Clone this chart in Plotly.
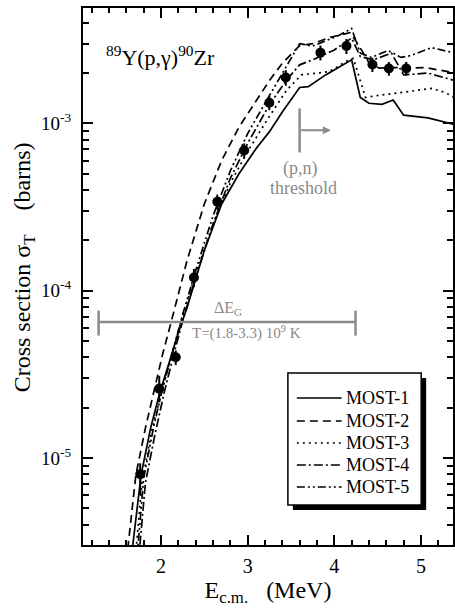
import plotly.graph_objects as go
import math

# ---------------- data ----------------
E_exp = [1.76, 1.98, 2.17, 2.38, 2.65, 2.96, 3.25, 3.44, 3.84, 4.14, 4.44, 4.63, 4.83]
sig_exp = [8.0e-6, 2.6e-5, 4.0e-5, 1.2e-4, 3.4e-4, 6.9e-4, 1.33e-3, 1.88e-3, 2.65e-3,
           2.9e-3, 2.25e-3, 2.13e-3, 2.13e-3]
err_plus = [1.3e-6, 0.5e-5, 0.4e-5, 0.15e-4, 0.35e-4, 0.7e-4, 0.13e-3, 0.2e-3, 0.27e-3,
            0.3e-3, 0.22e-3, 0.2e-3, 0.2e-3]
err_minus = [2.0e-6, 0.45e-5, 0.4e-5, 0.15e-4, 0.35e-4, 0.7e-4, 0.13e-3, 0.2e-3, 0.27e-3,
             0.3e-3, 0.22e-3, 0.2e-3, 0.2e-3]

E_m1 = [1.66, 1.77, 1.88, 1.99, 2.10, 2.20, 2.30, 2.50, 2.70, 2.90, 3.10, 3.25, 3.40, 3.60,
        3.70, 3.90, 4.20, 4.30, 4.40, 4.55, 4.68, 4.80, 5.08, 5.40]
sig_m1 = [2.6e-6, 7.9e-6, 1.51e-5, 2.5e-5, 3.8e-5, 5.6e-5, 7.9e-5, 1.74e-4, 3.3e-4, 5.0e-4,
          7.1e-4, 8.9e-4, 1.17e-3, 1.64e-3, 1.66e-3, 1.95e-3, 2.4e-3, 1.43e-3, 1.32e-3,
          1.30e-3, 1.38e-3, 1.12e-3, 1.08e-3, 9.8e-4]

E_m2 = [1.60, 1.71, 1.82, 1.93, 2.02, 2.10, 2.30, 2.50, 2.70, 2.90, 3.10, 3.25, 3.40, 3.60,
        3.75, 3.95, 4.18, 4.27, 4.40, 4.52, 4.70, 4.85, 5.05, 5.40]
sig_m2 = [2.4e-6, 7.9e-6, 1.51e-5, 2.7e-5, 4.2e-5, 6.0e-5, 1.51e-4, 3.3e-4, 6.0e-4, 9.5e-4,
          1.38e-3, 1.80e-3, 2.29e-3, 2.92e-3, 3.0e-3, 3.27e-3, 3.49e-3, 3.0e-3, 2.31e-3,
          2.14e-3, 2.16e-3, 2.14e-3, 2.16e-3, 2.0e-3]

E_m3 = [1.70, 1.78, 1.90, 2.02, 2.13, 2.25, 2.40, 2.60, 2.80, 3.00, 3.25, 3.45, 3.62, 3.94,
        4.17, 4.22, 4.36, 4.51, 4.66, 4.77, 4.93, 5.12, 5.28, 5.40]
sig_m3 = [2.4e-6, 7.1e-6, 1.51e-5, 2.6e-5, 4.3e-5, 7.1e-5, 1.26e-4, 2.5e-4, 4.4e-4, 6.8e-4,
          1.10e-3, 1.58e-3, 1.95e-3, 2.04e-3, 2.4e-3, 2.45e-3, 1.43e-3, 1.47e-3, 1.51e-3,
          1.53e-3, 1.57e-3, 1.62e-3, 1.53e-3, 1.41e-3]

E_m4 = [1.74, 1.82, 1.93, 2.04, 2.15, 2.25, 2.40, 2.60, 2.80, 3.00, 3.25, 3.45, 3.60, 3.75,
        4.00, 4.20, 4.30, 4.45, 4.66, 4.80, 5.08, 5.40]
sig_m4 = [2.4e-6, 7.1e-6, 1.38e-5, 2.5e-5, 4.2e-5, 6.6e-5, 1.20e-4, 2.5e-4, 4.7e-4, 7.6e-4,
          1.29e-3, 1.82e-3, 2.24e-3, 2.4e-3, 2.75e-3, 3.24e-3, 2.51e-3, 2.4e-3, 2.63e-3,
          1.95e-3, 2.0e-3, 1.80e-3]

E_m5 = [1.72, 1.80, 1.92, 2.03, 2.14, 2.25, 2.40, 2.60, 2.80, 3.00, 3.20, 3.40, 3.60, 3.75,
        4.05, 4.20, 4.30, 4.43, 4.62, 4.77, 4.89, 5.12, 5.40]
sig_m5 = [2.4e-6, 7.6e-6, 1.58e-5, 2.75e-5, 4.4e-5, 7.2e-5, 1.32e-4, 2.8e-4, 5.2e-4, 8.7e-4,
          1.32e-3, 2.0e-3, 3.0e-3, 2.9e-3, 3.35e-3, 3.7e-3, 2.63e-3, 2.48e-3, 2.73e-3,
          2.48e-3, 2.55e-3, 2.84e-3, 2.63e-3]

model_names = ["MOST-1", "MOST-2", "MOST-3", "MOST-4", "MOST-5"]

# Gamow window and (p,n) threshold annotations
gamow_E = [1.28, 4.245]
gamow_sigma = 6.5e-5
pn_threshold_E = 3.60
pn_arrow_E = 3.96

x_ticks = [2, 3, 4, 5]
y_ticks = [1e-5, 1e-4, 1e-3]
y_tick_text = ["10<sup>-5</sup>", "10<sup>-4</sup>", "10<sup>-3</sup>"]

# ---------------- figure ----------------
FONT = "Liberation Serif, Times New Roman, serif"
GRAY = "#8a8a8a"

# plot-area geometry in pixels (for legend placement in paper coords)
L, R, T, B = 83, 455, 8, 545
def px(xp):
    return (xp - L) / (R - L)
def py(yp):
    return (B - yp) / (B - T)

fig = go.Figure()

styles = ["solid", "8px,5px", "2px,4px", "9px,3px,2px,3px", "8px,3px,2px,3px,2px,3px"]
curves = [(E_m1, sig_m1), (E_m2, sig_m2), (E_m3, sig_m3), (E_m4, sig_m4), (E_m5, sig_m5)]
for name, (ex, sy), dash in zip(model_names, curves, styles):
    fig.add_trace(go.Scatter(x=ex, y=sy, mode="lines", name=name, showlegend=False,
                             line=dict(color="black", width=1.7, dash=dash)))

fig.add_trace(go.Scatter(
    x=E_exp, y=sig_exp, mode="markers", showlegend=False,
    marker=dict(color="black", size=10),
    error_y=dict(type="data", array=err_plus, arrayminus=err_minus, width=0,
                 thickness=2, color="black")))

# Gamow window bar (gray)
fig.add_trace(go.Scatter(x=gamow_E, y=[gamow_sigma, gamow_sigma], mode="lines",
                         showlegend=False, line=dict(color=GRAY, width=2.5)))
for ge in gamow_E:
    fig.add_trace(go.Scatter(x=[ge, ge], y=[gamow_sigma * 0.83, gamow_sigma * 1.17],
                             mode="lines", showlegend=False,
                             line=dict(color=GRAY, width=2.5)))

# (p,n) threshold vertical marker + arrow
fig.add_trace(go.Scatter(x=[pn_threshold_E, pn_threshold_E], y=[6.7e-4, 1.23e-3],
                         mode="lines", showlegend=False,
                         line=dict(color=GRAY, width=2.5)))
fig.add_annotation(x=pn_arrow_E, y=math.log10(9.1e-4), xref="x", yref="y",
                   ax=pn_threshold_E, ay=math.log10(9.1e-4), axref="x", ayref="y",
                   showarrow=True, arrowhead=2, arrowsize=0.8, arrowwidth=2,
                   arrowcolor=GRAY, text="")
fig.add_annotation(x=3.615, y=-3.269, xref="x", yref="y", text="(p,n)", showarrow=False,
                   font=dict(family=FONT, size=18, color=GRAY))
fig.add_annotation(x=3.65, y=-3.388, xref="x", yref="y", text="threshold", showarrow=False,
                   font=dict(family=FONT, size=18, color=GRAY))

fig.add_annotation(x=2.77, y=math.log10(gamow_sigma * 1.21),
                   xref="x", yref="y", text="ΔE<sub>G</sub>", showarrow=False,
                   font=dict(family=FONT, size=16, color=GRAY))
fig.add_annotation(x=2.33, y=math.log10(gamow_sigma * 0.86), xref="x", yref="y",
                   xanchor="left", text="T=(1.8-3.3) 10<sup>9</sup> K", showarrow=False,
                   font=dict(family=FONT, size=15, color=GRAY))

fig.add_annotation(x=px(104), y=py(56), xref="paper", yref="paper", xanchor="left",
                   yanchor="middle", text="<sup>89</sup>Y(p,γ)<sup>90</sup>Zr",
                   showarrow=False, font=dict(family=FONT, size=22, color="black"))

# y-axis title (placed explicitly to match the reference position)
fig.add_annotation(x=px(24), y=py(267), xref="paper", yref="paper",
                   xanchor="center", yanchor="middle", textangle=-90,
                   text="Cross section σ<sub>T</sub>\u00a0\u00a0\u00a0\u00a0(barns)",
                   showarrow=False, font=dict(family=FONT, size=24, color="black"))

# ---- legend box (drawn by hand to match the framed, shadowed legend) ----
fig.add_shape(type="rect", xref="paper", yref="paper",
              x0=px(294), x1=px(428), y0=py(510), y1=py(378),
              fillcolor="black", line=dict(width=0), layer="above")
fig.add_shape(type="rect", xref="paper", yref="paper",
              x0=px(289), x1=px(423), y0=py(505), y1=py(373),
              fillcolor="white", line=dict(color="black", width=1.5), layer="above")
legend_rows = [398, 421, 443, 465, 487]
for name, dash, yr in zip(model_names, styles, legend_rows):
    fig.add_shape(type="line", xref="paper", yref="paper",
                  x0=px(298), x1=px(343), y0=py(yr), y1=py(yr),
                  line=dict(color="black", width=1.7, dash=dash), layer="above")
    fig.add_annotation(x=px(345), y=py(yr), xref="paper", yref="paper",
                       xanchor="left", yanchor="middle", text=name, showarrow=False,
                       font=dict(family=FONT, size=18, color="black"))

fig.update_layout(
    width=455, height=611,
    margin=dict(l=L, r=0, t=T, b=611 - B),
    paper_bgcolor="white", plot_bgcolor="white",
    font=dict(family=FONT, size=18, color="black"),
    showlegend=False,
    xaxis=dict(range=[1.1, 5.37], tickvals=x_ticks, ticks="inside", ticklen=10,
               tickwidth=2, tickcolor="black", showline=True, linewidth=2,
               linecolor="black", mirror="ticks", showgrid=False, zeroline=False,
               tickfont=dict(family=FONT, size=20), ticklabelstandoff=2,
               minor=dict(tickvals=[round(1.2 + 0.2 * i, 1) for i in range(21)],
                          ticks="inside", ticklen=5, tickwidth=1.5, tickcolor="black"),
               title=dict(text="E<sub>c.m.</sub>\u00a0\u00a0\u00a0(MeV)",
                          font=dict(family=FONT, size=24), standoff=4)),
    yaxis=dict(type="log", range=[-5.52, -2.31], tickvals=y_ticks, ticktext=y_tick_text,
               ticks="inside", ticklen=10, tickwidth=2, tickcolor="black",
               showline=True, linewidth=2, linecolor="black", mirror="ticks",
               showgrid=False, zeroline=False,
               tickfont=dict(family=FONT, size=19), ticklabelstandoff=6,
               minor=dict(tickvals=[m * 10 ** d for d in (-6, -5, -4, -3) for m in range(2, 10)],
                          ticks="inside", ticklen=6, tickwidth=1.5, tickcolor="black")),
)

fig.write_html("out.html")
